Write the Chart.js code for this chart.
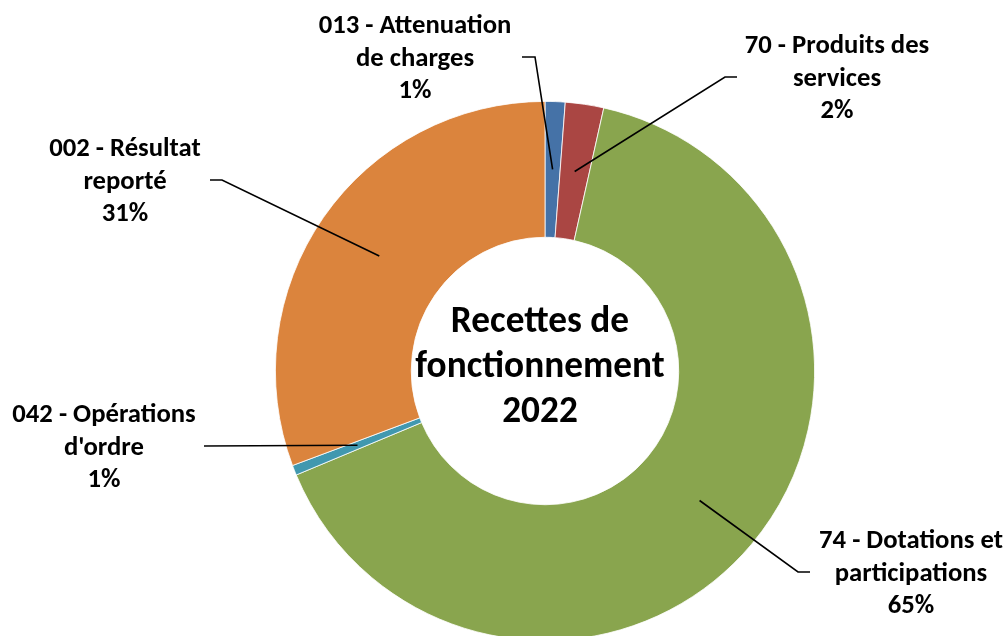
<!DOCTYPE html>
<html>
<head>
<meta charset="utf-8">
<script src="https://cdn.jsdelivr.net/npm/chart.js@4.4.1/dist/chart.umd.min.js"></script>
<style>
  html, body { margin: 0; padding: 0; background: #fff; overflow: hidden; }
  #wrap { width: 1007px; height: 660px; }
</style>
</head>
<body>
<div id="wrap"><canvas id="chart_recettes" width="1007" height="660"></canvas></div>
<script>
// data, clockwise from 12 o'clock
var categories = [
    ['013 - Attenuation', 'de charges'],
    ['70 - Produits des', 'services'],
    ['74 - Dotations et', 'participations'],
    ['042 - Opérations', "d'ordre"],
    ['002 - Résultat', 'reporté']
];
var shares = [1.2, 2.3, 65.2, 0.6, 30.7];
var colors = ['#4572A7', '#AA4643', '#89A54E', '#4198AF', '#DB843D'];
var centerTitle = ['Recettes de', 'fonctionnement', '2022'];

// where the data labels sit (text centre x, first baseline y) and the leader elbow
var labelLayout = [
    { x: 415, y: 33,  elbow: [535, 57],  stub: 522 },
    { x: 837, y: 53,  elbow: [725, 77],  stub: 737 },
    { x: 911, y: 548, elbow: [798, 572], stub: 810 },
    { x: 104, y: 422, elbow: [204, 446], stub: 204 },
    { x: 125, y: 156, elbow: [222, 180], stub: 210 }
];

var FONT = "Carlito, Lato, sans-serif";

var calloutPlugin = {
    id: 'callouts',
    afterDraw: function(chart) {
        var ctx = chart.ctx;
        var meta = chart.getDatasetMeta(0);
        var total = shares.reduce(function(a, b) { return a + b; }, 0);
        ctx.save();
        ctx.strokeStyle = '#000';
        ctx.lineWidth = 1.6;
        meta.data.forEach(function(arc, i) {
            var p = arc.tooltipPosition();
            var L = labelLayout[i];
            ctx.beginPath();
            ctx.moveTo(p.x, p.y);
            ctx.lineTo(L.elbow[0], L.elbow[1]);
            ctx.lineTo(L.stub, L.elbow[1]);
            ctx.stroke();

            var lines = categories[i].concat([Math.round(shares[i] / total * 100) + '%']);
            ctx.fillStyle = '#000';
            ctx.font = 'bold 26.7px ' + FONT;
            ctx.textAlign = 'center';
            ctx.textBaseline = 'alphabetic';
            lines.forEach(function(t, k) {
                ctx.fillText(t, L.x, L.y + k * 32.5);
            });
        });

        // title in the hole (Excel leaves it a touch left of centre)
        var cx = (chart.chartArea.left + chart.chartArea.right) / 2 - 5;
        ctx.font = 'bold 37.3px ' + FONT;
        centerTitle.forEach(function(t, k) {
            ctx.fillText(t, cx, 332 + k * 45);
        });
        ctx.restore();
    }
};

var chart_recettes = new Chart(document.getElementById('chart_recettes'), {
    type: 'doughnut',
    data: {
        labels: categories,
        datasets: [{
            data: shares,
            backgroundColor: colors,
            borderColor: '#ffffff',
            borderWidth: 0.8
        }]
    },
    options: {
        animation: false,
        responsive: false,
        cutout: '49.6%',
        layout: {
            padding: { left: 275, right: 192, top: 101, bottom: 19 }
        },
        plugins: {
            legend: { display: false },
            tooltip: { enabled: false }
        }
    },
    plugins: [calloutPlugin]
});
</script>
</body>
</html>
